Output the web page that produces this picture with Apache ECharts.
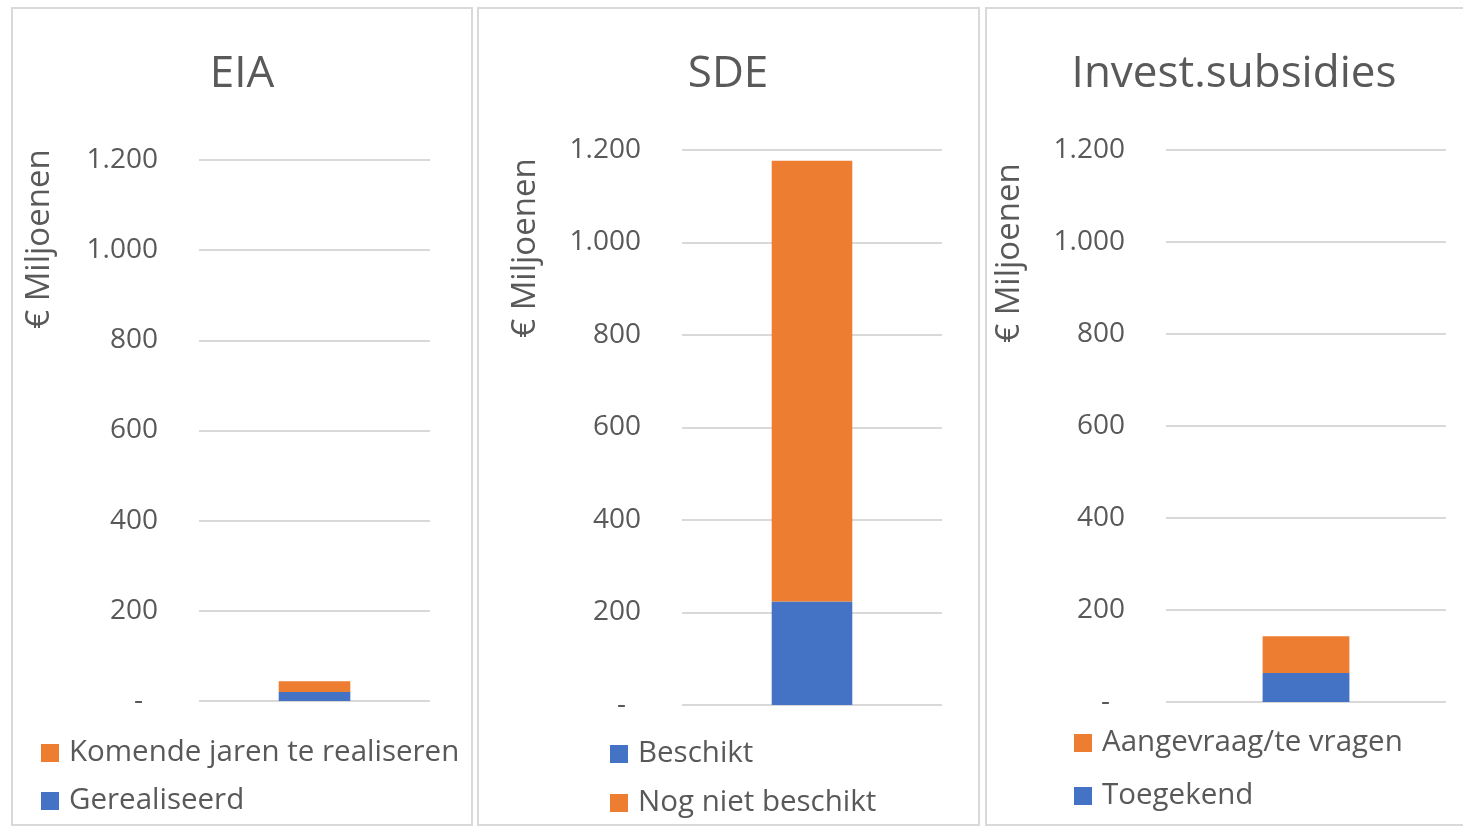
<!DOCTYPE html>
<html>
<head>
<meta charset="utf-8">
<script src="https://cdn.jsdelivr.net/npm/echarts@6/dist/echarts.min.js"></script>
<style>
  html, body { margin: 0; padding: 0; background: #fff; }
  #chart { width: 1463px; height: 826px; }
</style>
</head>
<body>
<div id="chart"></div>
<script>
// one column per panel: EIA, SDE, Invest.subsidies
const panelTitles = ['EIA', 'SDE', 'Invest.subsidies']
const blueNames = ['Gerealiseerd', 'Beschikt', 'Toegekend']
const orangeNames = ['Komende jaren te realiseren', 'Nog niet beschikt', 'Aangevraag/te vragen']
const blueValues = [20, 224, 63]
const orangeValues = [24, 953, 80]
const yMax = 1200
const yStep = 200

const BLUE = '#4472C4'
const ORANGE = '#ED7D31'
const TEXT = '#595959'
const LINE = '#D9D9D9'
const FONT = '"Open Sans", Lato, sans-serif'

// layout per panel
const grids = [
  { left: 199, top: 160, width: 231, height: 541 },
  { left: 682, top: 150, width: 260, height: 555 },
  { left: 1166, top: 150, width: 280, height: 552 }
]
const titleX = [242, 728, 1234]
const nameXY = [[40, 239], [526, 248], [1010, 253]]
const legendPos = [
  { left: 41, top: 738, gap: 18, order: ['o', 'b'] },
  { left: 610, top: 739, gap: 19, order: ['b', 'o'] },
  { left: 1074, top: 728, gap: 23, order: ['o', 'b'] }
]
const frames = [
  { x: 12, y: 8, width: 460, height: 817 },
  { x: 478, y: 8, width: 501, height: 817 },
  { x: 986, y: 8, width: 500, height: 817 }
]

const fmt = (v) => v === 0 ? '{z|-}' : String(v).replace(/\B(?=(\d{3})+(?!\d))/g, '.')

const chart = echarts.init(document.getElementById('chart'))

const series = []
panelTitles.forEach((t, i) => {
  series.push({
    name: blueNames[i],
    type: 'bar',
    stack: 'p' + i,
    xAxisIndex: i,
    yAxisIndex: i,
    barWidth: '31%',
    itemStyle: { color: BLUE },
    data: [blueValues[i]]
  })
  series.push({
    name: orangeNames[i],
    type: 'bar',
    stack: 'p' + i,
    xAxisIndex: i,
    yAxisIndex: i,
    barWidth: '31%',
    itemStyle: { color: ORANGE },
    data: [orangeValues[i]]
  })
})

chart.setOption({
  animation: false,
  backgroundColor: '#fff',
  title: panelTitles.map((t, i) => ({
    text: t,
    left: titleX[i],
    top: 74,
    padding: 0,
    textAlign: 'center',
    textVerticalAlign: 'middle',
    textStyle: { fontFamily: FONT, fontSize: 44, fontWeight: 'normal', color: TEXT }
  })),
  legend: legendPos.map((p, i) => ({
    orient: 'vertical',
    left: p.left,
    top: p.top,
    padding: 0,
    icon: 'rect',
    itemWidth: 18,
    itemHeight: 18,
    itemGap: p.gap,
    selectedMode: false,
    textStyle: { fontFamily: FONT, fontSize: 29.5, color: TEXT, padding: [0, 0, 0, 5] },
    data: p.order.map((k) => k === 'b' ? blueNames[i] : orangeNames[i])
  })),
  grid: grids.map((g) => ({ ...g, containLabel: false })),
  xAxis: grids.map((g, i) => ({
    type: 'category',
    gridIndex: i,
    data: [''],
    axisLine: { show: false },
    axisTick: { show: false },
    axisLabel: { show: false }
  })),
  yAxis: grids.map((g, i) => ({
    type: 'value',
    gridIndex: i,
    min: 0,
    max: yMax,
    interval: yStep,
    axisLine: { show: false },
    axisTick: { show: false },
    axisLabel: {
      margin: 41,
      formatter: fmt,
      fontFamily: FONT,
      fontSize: 28,
      color: TEXT,
      rich: { z: { fontFamily: FONT, fontSize: 28, color: TEXT, padding: [0, 15, 0, 0] } }
    },
    splitLine: { lineStyle: { color: LINE, width: 2 } }
  })),
  series,
  graphic: [
    ...frames.map((f) => ({
      type: 'rect',
      z: -10,
      shape: f,
      style: { fill: null, stroke: LINE, lineWidth: 2 }
    })),
    ...nameXY.map(([x, y]) => ({
      type: 'text',
      x,
      y,
      rotation: Math.PI / 2,
      style: {
        text: '€ Miljoenen',
        fontFamily: FONT,
        fontSize: 33,
        fill: TEXT,
        align: 'center',
        verticalAlign: 'middle'
      }
    }))
  ]
})
</script>
</body>
</html>
